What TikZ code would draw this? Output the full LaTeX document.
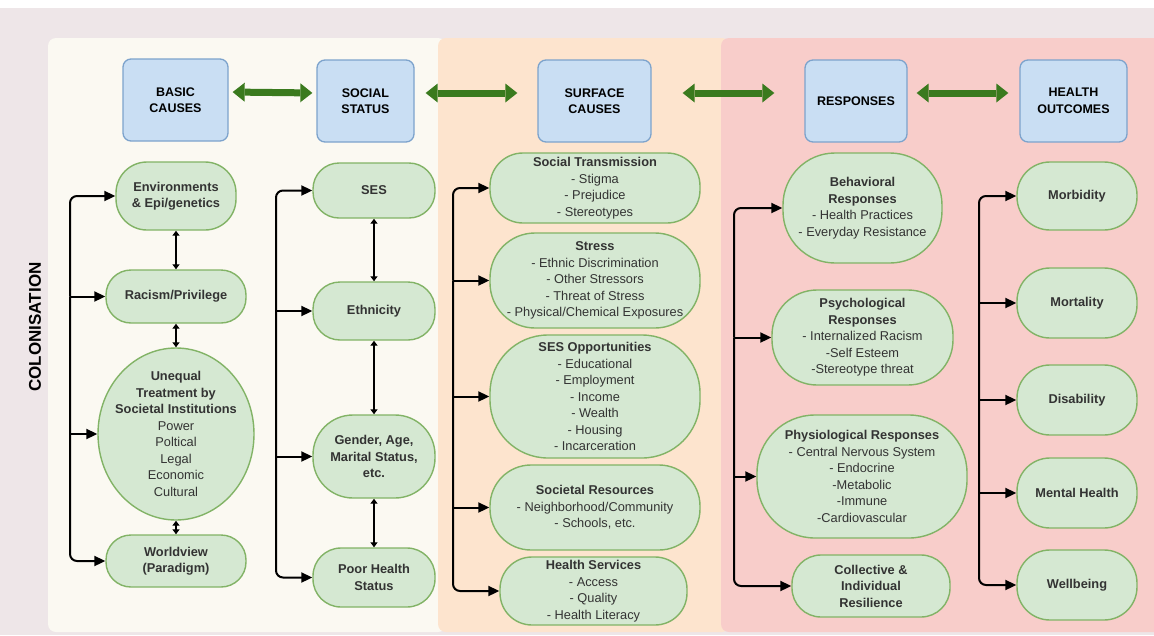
\documentclass[tikz,border=0pt]{standalone}
\usepackage{fontspec}
\setmainfont{Liberation Sans}
\usepackage{tikz}
\usetikzlibrary{arrows.meta,positioning,shapes.geometric}
\definecolor{bgpink}{HTML}{EEE6E8}
\definecolor{panelcream}{HTML}{FBF9F2}
\definecolor{panelpeach}{HTML}{FDE4CE}
\definecolor{panelrose}{HTML}{F8CDCA}
\definecolor{hdfill}{HTML}{C9DEF3}
\definecolor{hdline}{HTML}{7DA3CC}
\definecolor{gfill}{HTML}{D5E8D2}
\definecolor{gline}{HTML}{82B366}
\definecolor{darkgreen}{HTML}{3A7A1E}
\definecolor{itemgray}{HTML}{333333}

\tikzset{
  gtext/.style={align=center,inner sep=0pt,text=itemgray,font=\fontsize{12.8}{16.5}\selectfont},
  gnode/.style={gtext,draw=gline,fill=gfill,line width=1.4pt,rounded corners=#1},
  gnode/.default=30pt,
  header/.style={draw=hdline,fill=hdfill,line width=1.3pt,rounded corners=8pt,minimum height=82pt,
    inner sep=0pt,align=center,font=\fontsize{12.5}{16.5}\selectfont\bfseries},
  link/.style={-{Triangle[length=11pt,width=10pt]},line width=2pt},
  dlink/.style={{Triangle[length=5pt,width=7pt]}-{Triangle[length=5pt,width=7pt]},line width=1.5pt},
  bigarrow/.style={{Triangle[length=12pt,width=19pt,line width=0pt]}-{Triangle[length=12pt,width=19pt,line width=0pt]},
    line width=7pt,darkgreen}
}

\begin{document}
\begin{tikzpicture}[x=1pt,y=-1pt]
\useasboundingbox (0,0) rectangle (1154,635);
% backgrounds
\fill[white] (0,0) rectangle (1154,635);
\fill[bgpink] (0,8) rectangle (1154,635);
\fill[panelcream,rounded corners=8pt] (48,38) rectangle (446,632);
\fill[panelpeach,rounded corners=8pt] (438,38) rectangle (730,632);
\fill[panelrose,rounded corners=8pt] (721,38) rectangle (1170,632);

\node[rotate=90,font=\fontsize{17}{20}\selectfont\bfseries] (colon) at (35,327) {COLONISATION};

% header row
\node[header,minimum width=105pt] (hbasic) at (175.5,100) {BASIC\\CAUSES};
\node[header,minimum width=97pt] (hsocial) at (365.5,101) {SOCIAL\\STATUS};
\node[header,minimum width=113pt] (hsurface) at (594.5,101) {SURFACE\\CAUSES};
\node[header,minimum width=102pt] (hresp) at (856,101) {RESPONSES};
\node[header,minimum width=107pt] (hout) at (1073.5,101) {HEALTH\\OUTCOMES};

\draw[bigarrow,shorten <=4pt,shorten >=4pt] ([yshift=8pt]hbasic.east) -- ([yshift=8pt]hsocial.west);
\draw[bigarrow,shorten <=11pt,shorten >=20pt] ([yshift=8pt]hsocial.east) -- ([yshift=8pt]hsurface.west);
\draw[bigarrow,shorten <=31pt,shorten >=30pt] ([yshift=8pt]hsurface.east) -- ([yshift=8pt]hresp.west);
\draw[bigarrow,shorten <=9pt,shorten >=11pt] ([yshift=8pt]hresp.east) -- ([yshift=8pt]hout.west);

% basic causes
\node[gnode=31pt,minimum width=120pt,minimum height=68pt] (env) at (176,196) {\textbf{Environments}\\\textbf{\& Epi/genetics}};
\node[gnode=25pt,minimum width=140pt,minimum height=53pt] (rac) at (176,296.5) {\textbf{Racism/Privilege}};
\node[gnode,ellipse,minimum width=156pt,minimum height=172pt] (unequal) at (176,434) {};
\node[gtext] (unequaltxt) at (unequal.center) {\textbf{Unequal}\\\textbf{Treatment by}\\\textbf{Societal Institutions}\\Power\\Poltical\\Legal\\Economic\\Cultural};
\node[gnode=25pt,minimum width=140pt,minimum height=52pt] (wv) at (176,561) {\textbf{Worldview}\\\textbf{(Paradigm)}};

% social status
\node[gnode=26pt,minimum width=122pt,minimum height=55pt] (ses) at (374,190.5) {\textbf{SES}};
\node[gnode=27pt,minimum width=122pt,minimum height=58pt] (eth) at (374,311) {\textbf{Ethnicity}};
\node[gnode=40pt,minimum width=122pt,minimum height=83pt] (gen) at (374,456.5) {\textbf{Gender, Age,}\\\textbf{Marital Status,}\\\textbf{etc.}};
\node[gnode=28pt,minimum width=122pt,minimum height=59pt] (phs) at (374,577.5) {\textbf{Poor Health}\\\textbf{Status}};

% surface causes
\node[gnode=33pt,minimum width=210pt,minimum height=70pt] (soc) at (595,188) {\textbf{Social Transmission}\\- Stigma\\- Prejudice\\- Stereotypes};
\node[gnode=45pt,minimum width=210pt,minimum height=95pt] (str) at (595,280.5) {\textbf{Stress}\\- Ethnic Discrimination\\- Other Stressors\\- Threat of Stress\\- Physical/Chemical Exposures};
\node[gnode=58pt,minimum width=210pt,minimum height=123pt] (opp) at (595,396.5) {\textbf{SES Opportunities}\\- Educational\\- Employment\\- Income\\- Wealth\\- Housing\\- Incarceration};
\node[gnode=41pt,minimum width=210pt,minimum height=85pt] (res) at (595,507.5) {\textbf{Societal Resources}\\- Neighborhood/Community\\- Schools, etc.};
\node[gnode=32pt,minimum width=187pt,minimum height=68pt] (hsv) at (593.5,591) {\textbf{Health Services}\\- Access\\- Quality\\- Health Literacy};

% responses
\node[gnode=52pt,minimum width=159pt,minimum height=110pt] (beh) at (862.5,208) {\textbf{Behavioral}\\\textbf{Responses}\\- Health Practices\\- Everyday Resistance};
\node[gnode=45pt,minimum width=181pt,minimum height=95pt] (psy) at (862.5,337.5) {\textbf{Psychological}\\\textbf{Responses}\\- Internalized Racism\\-Self Esteem\\-Stereotype threat};
\node[gnode=58pt,minimum width=210pt,minimum height=123pt] (phy) at (862,476.5) {\textbf{Physiological Responses}\\- Central Nervous System\\- Endocrine\\-Metabolic\\-Immune\\-Cardiovascular};
\node[gnode=29pt,minimum width=158pt,minimum height=62pt] (col) at (871,586) {\textbf{Collective \&}\\\textbf{Individual}\\\textbf{Resilience}};

% health outcomes
\node[gnode=33pt,minimum width=120pt,minimum height=68pt] (morb) at (1077,196) {\textbf{Morbidity}};
\node[gnode=33pt,minimum width=120pt,minimum height=70pt] (mort) at (1077,303) {\textbf{Mortality}};
\node[gnode=33pt,minimum width=120pt,minimum height=70pt] (dis) at (1077,400) {\textbf{Disability}};
\node[gnode=33pt,minimum width=120pt,minimum height=70pt] (mh) at (1077,493) {\textbf{Mental Health}};
\node[gnode=33pt,minimum width=120pt,minimum height=70pt] (wb) at (1077,585) {\textbf{Wellbeing}};

% brackets
\coordinate (b1) at (70,0);
\coordinate (b2) at (276,0);
\coordinate (b3) at (453,0);
\coordinate (b4) at (734,0);
\coordinate (b5) at (979,0);

\draw[link,rounded corners=7pt] (b1 |- rac.west) |- (env.west);
\draw[link,rounded corners=7pt] (b1 |- rac.west) |- (wv.west);
\draw[link] (b1 |- rac.west) -- (rac.west);
\draw[link] (b1 |- unequal.west) -- (unequal.west);

\draw[link,rounded corners=7pt] (b2 |- eth.west) |- (ses.west);
\draw[link,rounded corners=7pt] (b2 |- eth.west) |- (phs.west);
\foreach \n in {eth,gen} \draw[link] (b2 |- \n.west) -- (\n.west);

\draw[link,rounded corners=7pt] (b3 |- str.west) |- (soc.west);
\draw[link,rounded corners=7pt] (b3 |- str.west) |- (hsv.west);
\foreach \n in {str,opp,res} \draw[link] (b3 |- \n.west) -- (\n.west);

\draw[link,rounded corners=7pt] (b4 |- psy.west) |- (beh.west);
\draw[link,rounded corners=7pt] (b4 |- psy.west) |- (col.west);
\foreach \n in {psy,phy} \draw[link] (b4 |- \n.west) -- (\n.west);

\draw[link,rounded corners=7pt] (b5 |- mort.west) |- (morb.west);
\draw[link,rounded corners=7pt] (b5 |- mort.west) |- (wb.west);
\foreach \n in {mort,dis,mh} \draw[link] (b5 |- \n.west) -- (\n.west);

% links inside columns
\draw[dlink] (env) -- (rac);
\draw[dlink] (rac) -- (unequal);
\draw[dlink] (unequal) -- (wv);
\draw[dlink] (ses) -- (eth);
\draw[dlink] (eth) -- (gen);
\draw[dlink] (gen) -- (phs);
\end{tikzpicture}
\end{document}
